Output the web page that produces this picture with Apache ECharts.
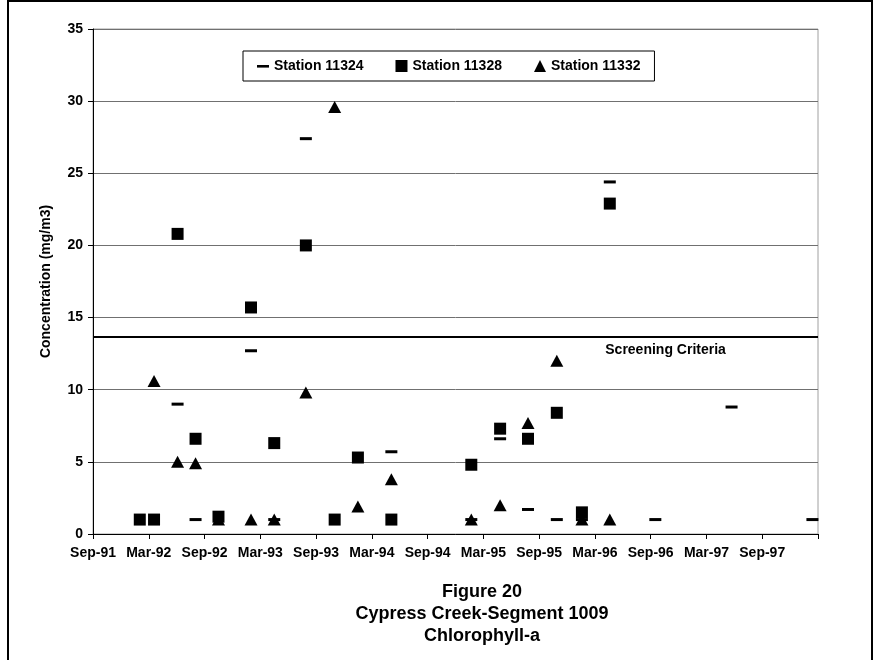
<!DOCTYPE html>
<html>
<head>
<meta charset="utf-8">
<script src="https://cdn.jsdelivr.net/npm/echarts@6/dist/echarts.min.js"></script>
<style>
html,body{margin:0;padding:0;background:#fff;}
#c{width:876px;height:660px;}
</style>
</head>
<body>
<div id="c"></div>
<script>
// Tick labels (every 6 months starting Sep-91)
var tickLabels = ['Sep-91','Mar-92','Sep-92','Mar-93','Sep-93','Mar-94','Sep-94','Mar-95','Sep-95','Mar-96','Sep-96','Mar-97','Sep-97'];

// Station 11324
var dates11324 = ['1992-06-04','1992-08-02','1993-02-01','1993-04-16','1993-07-28','1994-05-04','1995-01-22','1995-04-25','1995-07-25','1995-10-28','1996-01-19','1996-04-19','1996-09-16','1997-05-22','1998-02-13'];
var values11324 = [9.0,1.0,12.7,1.0,27.4,5.7,1.0,6.6,1.7,1.0,1.0,24.4,1.0,8.8,1.0];

// Station 11328
var dates11328 = ['1992-02-02','1992-03-18','1992-06-04','1992-08-02','1992-10-16','1993-02-01','1993-04-16','1993-07-28','1993-11-01','1994-01-16','1994-05-04','1995-01-22','1995-04-25','1995-07-25','1995-10-28','1996-01-19','1996-04-19'];
var values11328 = [1.0,1.0,20.8,6.6,1.2,15.7,6.3,20.0,1.0,5.3,1.0,4.8,7.3,6.6,8.4,1.5,22.9];

// Station 11332
var dates11332 = ['1992-03-18','1992-06-04','1992-08-02','1992-10-16','1993-02-01','1993-04-16','1993-07-28','1993-11-01','1994-01-16','1994-05-04','1995-01-22','1995-04-25','1995-07-25','1995-10-28','1996-01-19','1996-04-19'];
var values11332 = [10.6,5.0,4.9,1.0,1.0,1.0,9.8,29.6,1.9,3.8,1.0,2.0,7.7,12.0,1.0,1.0];

var screeningCriteria = 13.7;

// months since 1 Sep 1991
function toMonths(s){
  var p = s.split('-');
  var y = +p[0], m = +p[1], d = +p[2];
  return (y - 1991) * 12 + (m - 9) + (d - 1) / 30;
}
function pairs(dates, vals){
  return dates.map(function(d, i){ return [toMonths(d), vals[i]]; });
}

var FONT = "'Liberation Sans', Arial, sans-serif";
var chart = echarts.init(document.getElementById('c'), null, {renderer:'canvas'});

var dashIcon = 'path://M0,0 M0,5 L12,5 L12,7.6 L0,7.6 Z M12,12';

var option = {
  animation: false,
  backgroundColor: '#fff',
  title: {
    text: 'Figure 20\nCypress Creek-Segment 1009\nChlorophyll-a',
    left: 477,
    top: 576,
    textAlign: 'center',
    textStyle: {fontFamily: FONT, fontSize: 18, fontWeight: 'bold', color: '#000', lineHeight: 22}
  },
  legend: {
    left: 243, top: 51,
    padding: [8, 14],
    itemGap: 32,
    itemWidth: 12, itemHeight: 12,
    borderColor: '#000', borderWidth: 1,
    textStyle: {fontFamily: FONT, fontSize: 14, fontWeight: 'bold', color: '#000'},
    itemStyle: {opacity: 1},
    data: [
      {name: 'Station 11324', icon: dashIcon},
      {name: 'Station 11328', icon: 'rect'},
      {name: 'Station 11332', icon: 'triangle'}
    ]
  },
  grid: {left: 93, right: 58, top: 29, bottom: 126, show: true, borderColor: '#a0a0a0', borderWidth: 1},
  xAxis: {
    type: 'value', min: 0, max: 78, interval: 6,
    axisLine: {show: true, lineStyle: {color: '#000', width: 1}},
    axisTick: {show: true, length: 5, lineStyle: {color: '#000'}},
    splitLine: {show: false},
    axisLabel: {
      margin: 12,
      fontFamily: FONT, fontSize: 14, fontWeight: 'bold', color: '#000',
      formatter: function(v){ var i = Math.round(v / 6); return tickLabels[i] || ''; }
    }
  },
  yAxis: {
    type: 'value', min: 0, max: 35, interval: 5,
    name: 'Concentration (mg/m3)',
    nameLocation: 'middle', nameGap: 40,
    nameTextStyle: {fontFamily: FONT, fontSize: 14, fontWeight: 'bold', color: '#000'},
    axisLine: {show: true, lineStyle: {color: '#000', width: 1}},
    axisTick: {show: true, length: 5, lineStyle: {color: '#000'}},
    splitLine: {show: true, lineStyle: {color: '#707070', width: 1}},
    axisLabel: {margin: 10, fontFamily: FONT, fontSize: 14, fontWeight: 'bold', color: '#000'}
  },
  series: [
    {
      name: 'Station 11324', type: 'scatter',
      data: pairs(dates11324, values11324),
      symbol: 'rect', symbolSize: [12, 3],
      itemStyle: {color: '#000', opacity: 1},
      markLine: {
        silent: true, symbol: 'none',
        lineStyle: {color: '#000', width: 2, type: 'solid', opacity: 1},
        label: {show: false},
        data: [[{coord: [0, screeningCriteria]}, {coord: [78, screeningCriteria]}]]
      }
    },
    {
      name: 'Station 11328', type: 'scatter',
      data: pairs(dates11328, values11328),
      symbol: 'rect', symbolSize: 12,
      itemStyle: {color: '#000', opacity: 1}
    },
    {
      name: 'Station 11332', type: 'scatter',
      data: pairs(dates11332, values11332),
      symbol: 'triangle', symbolSize: [13, 12],
      itemStyle: {color: '#000', opacity: 1}
    }
  ],
  graphic: [
    {type: 'rect', shape: {x: 8, y: 1, width: 864, height: 700}, style: {fill: 'none', stroke: '#000', lineWidth: 2}, silent: true}
  ]
};
chart.setOption(option);

var p = chart.convertToPixel({gridIndex: 0}, [61.6, screeningCriteria]);
chart.setOption({
  graphic: [
    {type: 'rect', shape: {x: 8, y: 1, width: 864, height: 700}, style: {fill: 'none', stroke: '#000', lineWidth: 2}, silent: true},
    {type: 'text', x: p[0], y: p[1] + 14, silent: true,
     style: {text: 'Screening Criteria', fill: '#000', font: 'bold 14px ' + FONT, textAlign: 'center', textVerticalAlign: 'middle'}}
  ]
});
</script>
</body>
</html>
